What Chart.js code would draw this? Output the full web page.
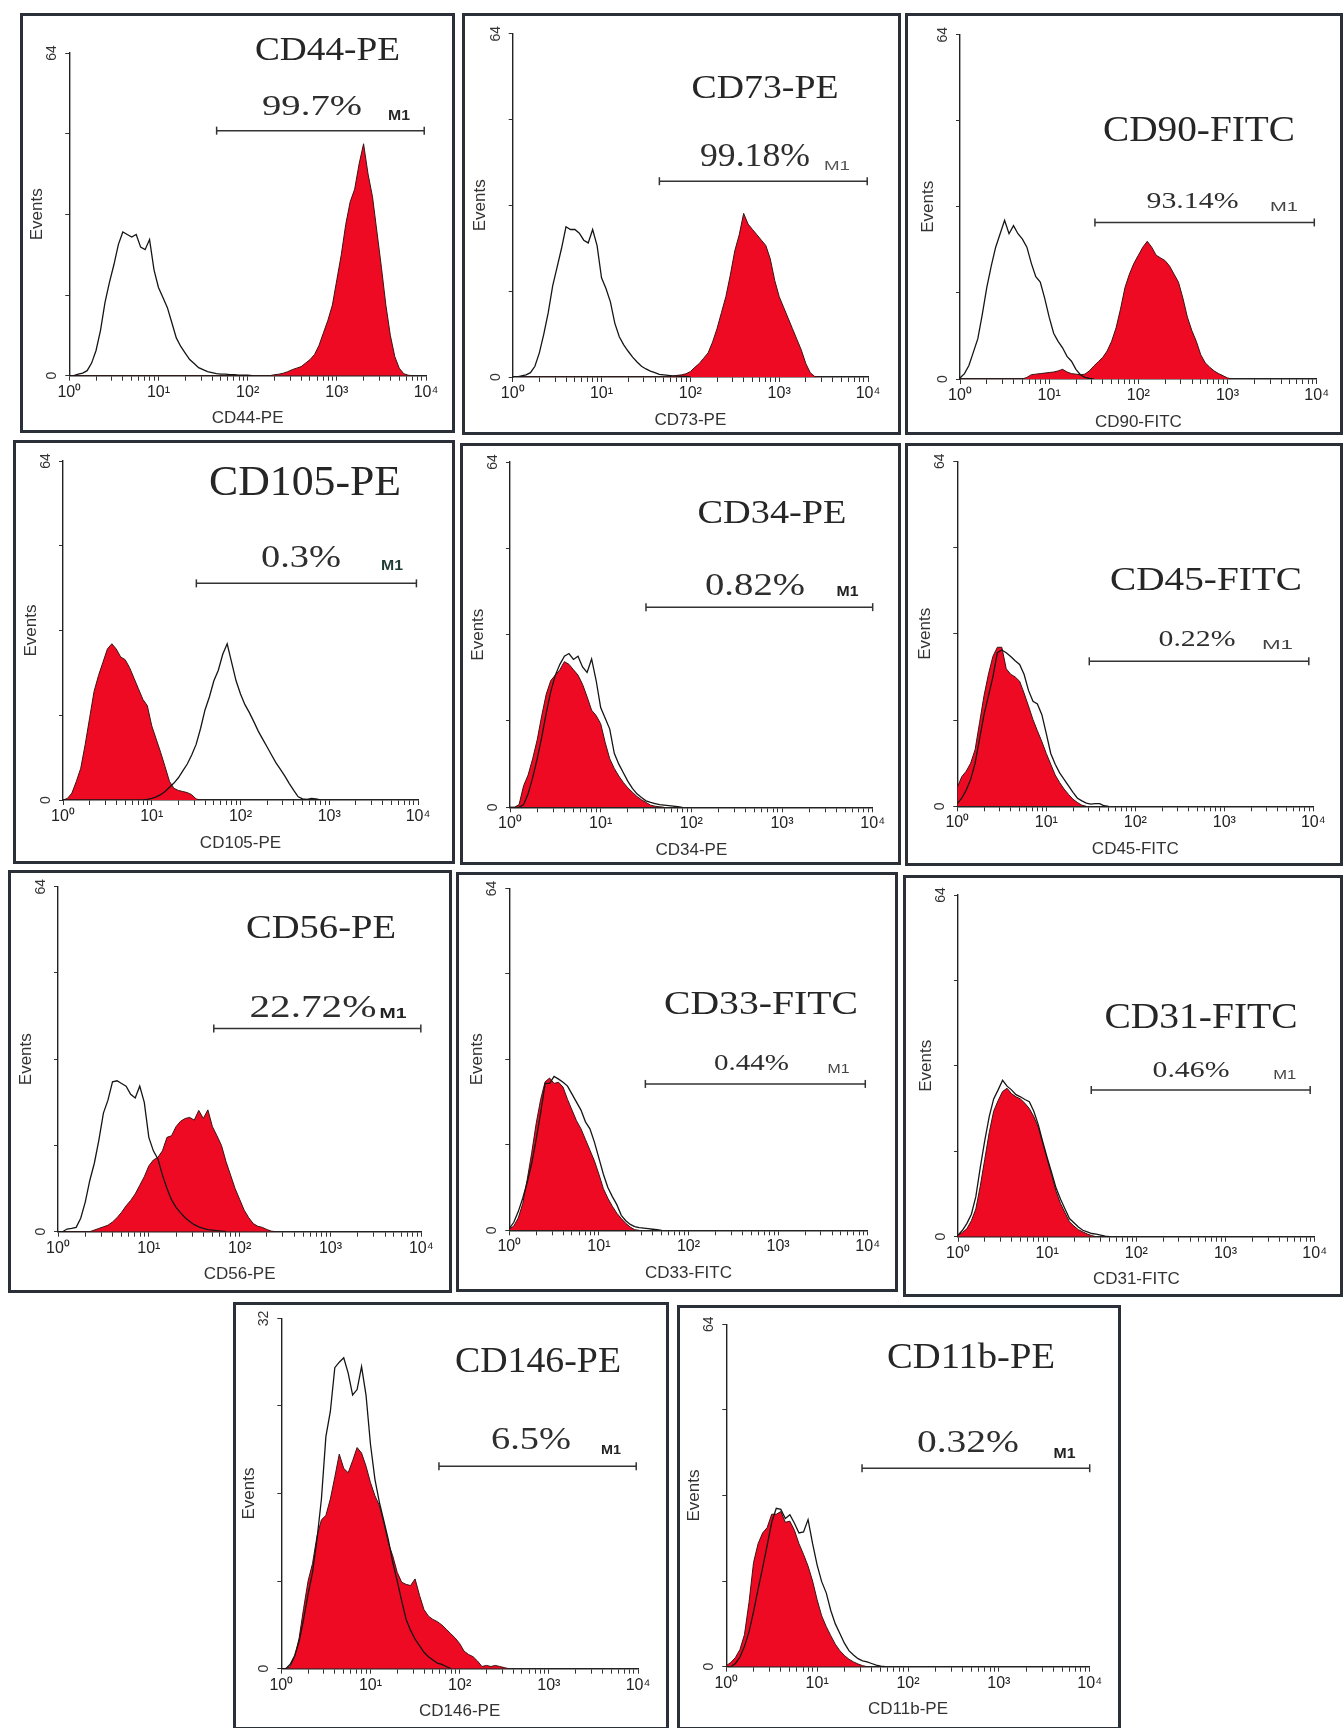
<!DOCTYPE html>
<html>
<head>
<meta charset="utf-8">
<script src="https://cdn.jsdelivr.net/npm/chart.js@4.4.1/dist/chart.umd.min.js"></script>
<style>
  html, body { margin: 0; padding: 0; background: #fff; }
  body { position: relative; width: 1343px; height: 1728px; overflow: hidden; }
  .panel { position: absolute; box-sizing: border-box; border: 3px solid #2b3038; background: #fff; }
  .panel canvas { position: absolute; left: 0; top: 0; }
</style>
</head>
<body>
<script>
// channel centres, in decades (10^d), shared by every histogram
const channelDecades = [
  0, 0.05, 0.1, 0.15, 0.2, 0.25, 0.3, 0.35, 0.4, 0.45,
  0.5, 0.55, 0.6, 0.65, 0.7, 0.75, 0.8, 0.85, 0.9, 0.95,
  1, 1.05, 1.1, 1.15, 1.2, 1.25, 1.3, 1.35, 1.4, 1.45,
  1.5, 1.55, 1.6, 1.65, 1.7, 1.75, 1.8, 1.85, 1.9, 1.95,
  2, 2.05, 2.1, 2.15, 2.2, 2.25, 2.3, 2.35, 2.4, 2.45,
  2.5, 2.55, 2.6, 2.65, 2.7, 2.75, 2.8, 2.85, 2.9, 2.95,
  3, 3.05, 3.1, 3.15, 3.2, 3.25, 3.3, 3.35, 3.4, 3.45,
  3.5, 3.55, 3.6, 3.65, 3.7, 3.75, 3.8, 3.85, 3.9, 3.95, 4
];
const xTickValues = [1, 2, 3, 4, 5, 6, 7, 8, 9, 10, 20, 30, 40, 50, 60, 70, 80, 90,
  100, 200, 300, 400, 500, 600, 700, 800, 900, 1000, 2000, 3000, 4000, 5000, 6000, 7000, 8000, 9000, 10000];
const decadeLabels = { 1: '10\u2070', 10: '10\u00b9', 100: '10\u00b2', 1000: '10\u00b3', 10000: '10\u2074' };

// events per channel, starting at channel 0 (10^0)
const cd44Ctrl = [0,0,0.3,0.5,1,2.5,5,9,14.5,18.5,22,26,28.5,28,27.5,28,25.5,25,27,21,17.5,15.5,13.5,10.5,7.5,5.8,4.5,3.2,2.4,1.6,1.2,0.8,0.6,0.4,0.3,0.3,0.2,0.2,0.1,0.1,0.1];
const cd44Pos = [0,0,0,0,0,0,0,0,0,0, 0,0,0,0,0,0,0,0,0,0, 0,0,0,0,0,0,0,0,0,0, 0,0,0,0,0,0,0,0,0,0, 0,0,0,0,0,0,
  0.2,0.3,0.5,0.8,1.2,1.5,1.8,2.5,3.2,4.2,6,8.5,11,14,19,24,30,34.5,37,42,46,40,35.5,28.5,21.5,14,8,3.8,1.5,0.4,0.1];
const cd73Ctrl = [0,0,0.2,0.4,0.8,2,4.5,8,12,17,20.5,24,28,27.5,27.5,26.8,25.5,25,27.5,24.5,18.5,16.5,14,10,7.5,6,4.8,3.7,2.8,2,1.5,1.1,0.8,0.5,0.4,0.3,0.2,0.15,0.1,0.1];
const cd73Pos = [0,0,0,0,0,0,0,0,0,0, 0,0,0,0,0,0,0,0,0,0, 0,0,0,0,0,0,0,0,0,0, 0,0,0,0,0,0,
  0.2,0.3,0.4,0.6,1,1.8,2.5,3.5,4.5,6.5,9,12,15,19,23.5,26.5,30.5,28.5,27.5,26.5,25.5,24.5,22,18,15,13,11,9,7,5,2.5,0.8,0.1];
const cd90Ctrl = [0.2,1,2.5,5,7.5,12,17,21,24.5,27,29.5,27,28.5,27,26,24.5,21.5,19,18,15,11.5,8.5,7,5.8,4.2,3.3,1.8,0.8,0.3,0.1];
const cd90Pos = [0,0,0,0,0,0,0,0,0,0, 0,0,0,0,0,
  0.3,0.8,0.9,1,1.1,1.2,1.3,1.5,1.8,1.3,1,0.9,0.8,0.9,1.5,2.4,3.2,4,5.2,7,9.5,13,17,19.5,21.5,23,24.5,25.6,24.5,23,22.5,22,21,19.5,18,15,11.5,9,7,4.5,3,2.2,1.5,1,0.6,0.2];
const cd105Ctrl = [0,0,0,0,0,0,0,0,0,0, 0,0,0,0,0,0,0,0,0,
  0.1,0.3,0.6,1,1.6,2.4,3.2,4.2,5.5,6.8,8.5,10.5,13.5,17,19.5,22.5,24.5,27.5,29.5,26,22.5,20,18,16.5,14.8,13,11.5,10,8.5,7,5.8,4.5,3.1,1.8,0.6,0.2,0.1,0.3,0.2];
const cd105Pos = [0,0.3,1.3,3.5,6,10.5,15.5,20.5,23.5,26,28.5,29.5,28.5,27,26.5,25,23,21,19,17.8,14,11.5,9,6.3,3.5,2.2,1.8,1.6,1.4,1,0.2];
const cd34Ctrl = [0,0,0,0.5,2.5,5.5,9,13,17.5,21.5,24.5,26.5,28,28.5,27.4,28,26,25,27.5,23.5,18.5,16.5,14.5,10,8,6.4,4.8,3.5,2.5,1.8,1.2,0.9,0.7,0.5,0.4,0.3,0.2,0.1];
const cd34Pos = [0,0,0.5,4,6,9,12.5,17,21,23.5,24.5,25.5,27,26.5,25.5,24.5,22.8,20.5,18,17,15.5,12,9,7.2,5.8,4.6,3.6,2.8,2,1.4,0.9,0.4,0.2,0.1];
const cd45Ctrl = [0.5,1.5,3,5,8,12.5,17,20.5,24,28.5,29,28.5,27.8,27,26.3,24.5,21.5,19.5,19,17,13.5,9.8,7.8,6.2,5,3.8,2.6,1.5,1,0.6,0.4,0.5,0.5,0.1];
const cd45Pos = [3.5,5.5,6.5,8,10.5,15.5,20.5,24.5,27.8,29.5,29.5,25.5,24.5,24,23.2,21,18.6,16.1,14,12,9.8,7.8,5.8,4.4,3.2,2.2,1.3,0.7,0.2];
const cd56Ctrl = [0,0,0.5,0.6,0.8,2.5,5.5,9.5,12.7,17,22,24.4,27.8,28,27.5,27,25.5,24.8,27,24,17.5,15,13.5,10.5,8,5.9,4.5,3.5,2.6,1.9,1.3,0.9,0.6,0.4,0.3,0.2,0.1];
const cd56Pos = [0,0,0,0,0,0,0,0,
  0.3,0.6,0.9,1.2,1.8,2.6,3.6,4.8,5.8,7,8.6,10.2,12.2,13.3,13.8,15,17.5,17.8,19.5,20.5,21,21.2,20.7,22.5,21,22.6,19.5,17.8,16,13,10.5,8,6,4,2.6,1.5,1,0.8,0.4,0.1];
const cd33Ctrl = [0.3,1.5,3.5,6,9,12.5,17,22,27.5,27.5,28.8,28.3,27.7,27,25.5,24,22.5,20.3,19,16.5,13.5,10.5,8,6.3,4.8,2.8,1.8,1.1,0.7,0.5,0.4,0.3,0.2,0.1];
const cd33Pos = [0.2,0.8,2.3,5,9.5,14.5,20,24.5,27.8,28.5,27.5,27.7,26.8,24.5,22.5,20.5,19,17,15,13,10.5,7.8,6,4.5,3.2,2.2,1.3,0.6,0.1];
const cd31Ctrl = [0.3,1.2,2.5,4.2,7.5,13,18,22.5,25.8,27.5,29.3,28.2,27.5,26.6,26.2,25.7,25.3,23.5,21,17.8,14.8,12,9.1,7,5.2,3.4,2.6,1.8,1.2,0.9,0.6,0.5,0.3,0.1];
const cd31Pos = [0.3,0.8,1.5,3,5.2,9.5,14.5,19.5,23.5,25.5,27.2,27.8,26.8,26.2,25.8,25,24,22.5,20.5,17.5,14.5,11.5,8.5,6.2,4.5,2.8,2,1.3,0.9,0.5,0.2];
const cd146Ctrl = [0,0,0.4,1.2,2.5,4.5,6.8,8.8,11.8,15.5,21.2,23.5,27.5,28,28.4,27,25,25.5,27.6,25,20.5,17.3,15.2,13.5,11.8,9.7,8,6.2,4.5,3.5,2.7,2.1,1.5,1.1,0.8,0.5,0.4,0.2];
const cd146Pos = [0,0,0.2,1.1,2.8,5.5,8,9.6,12.1,13.6,14,15.5,17.5,19.6,18.3,17.9,19,20.2,19.7,18.5,17,15.8,14.9,13.3,11.5,10.3,8.8,7.9,7.7,7.6,8.2,6.7,5.4,4.8,4.5,4.3,4,3.6,3.2,2.8,2.3,1.6,1.3,1.1,0.7,0.2,0.3,0.2,0.3,0.2,0.1];
const cd11bCtrl = [0,0,0.6,1.8,3.8,6.5,10.3,14.5,18.5,22.7,27,29.6,29.4,27.7,28.4,26.8,25,25.2,27.5,23,19,15.9,13.8,10.5,8,6.2,4.4,3,2.2,1.5,1.1,0.9,0.6,0.3,0.1];
const cd11bPos = [0.2,0.8,1.7,3.2,6,12,19.5,23,25,26,28.5,28.5,29,27,27.2,25.5,23,21,18.8,16,12.5,9.5,7.5,5.8,4.2,3,2.1,1.4,0.9,0.5,0.2];

const markers = ['CD44-PE', 'CD73-PE', 'CD90-FITC', 'CD105-PE', 'CD34-PE', 'CD45-FITC',
  'CD56-PE', 'CD33-FITC', 'CD31-FITC', 'CD146-PE', 'CD11b-PE'];
const percents = ['99.7%', '99.18%', '93.14%', '0.3%', '0.82%', '0.22%', '22.72%', '0.44%', '0.46%', '6.5%', '0.32%'];
const isotype = [cd44Ctrl, cd73Ctrl, cd90Ctrl, cd105Ctrl, cd34Ctrl, cd45Ctrl, cd56Ctrl, cd33Ctrl, cd31Ctrl, cd146Ctrl, cd11bCtrl];
const stained = [cd44Pos, cd73Pos, cd90Pos, cd105Pos, cd34Pos, cd45Pos, cd56Pos, cd33Pos, cd31Pos, cd146Pos, cd11bPos];
const yMax = [64, 64, 64, 64, 64, 64, 64, 64, 64, 32, 64];
// M1 marker: start, end (fluorescence), drawn at this event level
const gateFrom = [44.9, 44.8, 32.6, 31.8, 31.6, 30.4, 51.9, 33, 31.2, 58.6, 31.2];
const gateTo = [9550, 9800, 9400, 9600, 10000, 8900, 9880, 9400, 8900, 9550, 10000];
const gateLevel = [48.6, 36.5, 29.1, 40.9, 37.1, 26.9, 37.7, 27.4, 27.5, 18.5, 37.1];

// page layout: outer box, plot rect [axisX, top, right, baseline], text specs [cx, baseline, size, width]
const panels = [
  { box: [20, 13, 455, 433], plot: [69.3, 53, 426, 375.7], title: [327.5, 60, 33, 145], pct: [312, 115, 30, 100], m1: [399, 120, 15, 22, 'bold', '#2a2a2a'] },
  { box: [462, 13, 901, 435], plot: [512.7, 33.7, 868, 377], title: [765, 98, 34, 147], pct: [755, 166, 33, 110], m1: [837, 170, 12, 26, 'normal', '#555'] },
  { box: [905, 13, 1343, 435], plot: [960, 34.7, 1316.7, 379], title: [1199, 141, 35, 192], pct: [1192.5, 208, 23, 92], m1: [1284, 211, 12, 28, 'normal', '#444'] },
  { box: [13, 440, 455, 864], plot: [63, 461, 418, 800], title: [305, 495, 42, 192], pct: [301, 567, 31, 80], m1: [392, 570, 15, 22, 'bold', '#1f3d35'] },
  { box: [460, 443, 901, 865], plot: [510, 462, 872.7, 807.3], title: [772, 523, 33, 149], pct: [755, 595, 32, 100], m1: [847.5, 596, 14, 22, 'bold', '#222'] },
  { box: [905, 443, 1343, 866], plot: [957.3, 461.3, 1313.3, 806.3], title: [1206, 590, 33, 192], pct: [1197, 646, 23, 77], m1: [1277.5, 649, 12, 31, 'normal', '#444'] },
  { box: [8, 870, 452, 1293], plot: [58, 886.7, 421.3, 1231.7], title: [321, 938, 33, 150], pct: [313, 1017, 32, 127], m1: [393, 1018, 14, 27, 'bold', '#222'] },
  { box: [456, 872, 898, 1292], plot: [509.3, 887.7, 867.7, 1230.3], title: [761, 1014, 33, 194], pct: [751.5, 1070, 23, 75], m1: [838.5, 1073, 12, 22, 'normal', '#444'] },
  { box: [903, 875, 1343, 1297], plot: [958, 895, 1314.7, 1236.7], title: [1201, 1028, 35, 193], pct: [1191, 1077, 23, 77], m1: [1284.7, 1079, 12, 23, 'normal', '#444'] },
  { box: [233, 1302, 669, 1730], plot: [281.3, 1317, 638, 1668.7], title: [538, 1372, 35, 166], pct: [531, 1449, 32, 80], m1: [611, 1454, 13, 20, 'bold', '#222'] },
  { box: [677, 1305, 1121, 1730], plot: [726.3, 1324.3, 1089.7, 1666.7], title: [971, 1368, 35, 168], pct: [968, 1452, 32, 102], m1: [1064.5, 1458, 14, 22, 'bold', '#222'] }
];

const BORDER = 3;
const SANS = '"Liberation Sans", Arial, sans-serif';
const SERIF = '"Liberation Serif", "Times New Roman", serif';

function toPoints(counts) {
  const pts = counts.map((c, i) => ({ x: 10 ** channelDecades[i], y: c }));
  pts.push({ x: 10 ** channelDecades[counts.length], y: 0 });
  return pts;
}

// text squeezed/stretched to the width it has in the figure
function putText(ctx, text, spec, family, weight, color) {
  const [cx, base, size, width] = spec;
  ctx.save();
  ctx.font = weight + ' ' + size + 'px ' + family;
  ctx.fillStyle = color;
  ctx.textAlign = 'center';
  ctx.textBaseline = 'alphabetic';
  const w = ctx.measureText(text).width;
  ctx.translate(cx, base);
  ctx.scale(width / w, 1);
  ctx.fillText(text, 0, 0);
  ctx.restore();
}

panels.forEach((p, k) => {
  const [bl, bt, br, bb] = p.box;
  const div = document.createElement('div');
  div.className = 'panel';
  div.style.left = bl + 'px';
  div.style.top = bt + 'px';
  div.style.width = (br - bl) + 'px';
  div.style.height = (bb - bt) + 'px';
  const cw = br - bl - 2 * BORDER;
  const chh = bb - bt - 2 * BORDER;
  const canvas = document.createElement('canvas');
  canvas.width = cw;
  canvas.height = chh;
  canvas.style.width = cw + 'px';
  canvas.style.height = chh + 'px';
  div.appendChild(canvas);
  document.body.appendChild(div);

  const ox = bl + BORDER, oy = bt + BORDER;
  const [ax, at, ar, ab] = p.plot;
  const yW = ax - ox;
  const xH = oy + chh - ab;
  const xTitlePad = xH - 43 - 10.2;
  const yTitlePad = yW - 32 - 10.2;

  const labels = {
    id: 'panelLabels',
    afterDraw(chart) {
      const ctx = chart.ctx;
      const shift = s => [s[0] - ox, s[1] - oy, s[2], s[3]];
      putText(ctx, markers[k], shift(p.title), SERIF, 'normal', '#262626');
      putText(ctx, percents[k], shift(p.pct), SERIF, 'normal', '#2e2e2e');
      putText(ctx, 'M1', shift(p.m1), SANS, p.m1[4], p.m1[5]);
    }
  };

  new Chart(canvas, {
    type: 'line',
    data: {
      datasets: [
        { data: toPoints(isotype[k]), borderColor: '#151515', borderWidth: 1.3, pointRadius: 0, fill: false, order: 0 },
        { data: toPoints(stained[k]), borderColor: '#3b1414', borderWidth: 1, backgroundColor: '#ee0a22', pointRadius: 0, fill: 'origin', order: 1 },
        { data: [{ x: gateFrom[k], y: gateLevel[k] }, { x: gateTo[k], y: gateLevel[k] }],
          borderColor: '#333', borderWidth: 1.5, pointStyle: 'line', pointRotation: 90, pointRadius: 4,
          pointBorderWidth: 1.5, pointBorderColor: '#333', fill: false, clip: false, order: 2 }
      ]
    },
    options: {
      responsive: false,
      animation: false,
      events: [],
      layout: { padding: { left: 0, top: at - oy, right: ox + cw - ar, bottom: 0 } },
      elements: { line: { tension: 0 } },
      plugins: { legend: { display: false }, tooltip: { enabled: false } },
      scales: {
        x: {
          type: 'logarithmic', min: 1, max: 10000, position: 'bottom',
          afterBuildTicks: s => { s.ticks = xTickValues.map(v => ({ value: v })); },
          afterFit: s => { s.height = xH; },
          ticks: { autoSkip: false, minRotation: 0, maxRotation: 0, padding: 2, color: '#222',
                   font: { family: SANS, size: 16 }, callback: v => decadeLabels[v] || '' },
          grid: { drawOnChartArea: false, drawTicks: true, tickLength: 5, tickColor: '#333' },
          border: { display: true, color: '#222', width: 1.4 },
          title: { display: true, text: markers[k], color: '#333', font: { family: SANS, size: 17 },
                   padding: { top: 0, bottom: xTitlePad } }
        },
        y: {
          type: 'linear', min: 0, max: yMax[k], position: 'left',
          afterFit: s => { s.width = yW; },
          ticks: { stepSize: yMax[k] / 4, autoSkip: false, minRotation: 90, maxRotation: 90, crossAlign: 'center',
                   padding: 5, color: '#333', font: { family: SANS, size: 14 },
                   callback: v => (v === 0 || v === yMax[k]) ? String(v) : '' },
          grid: { drawOnChartArea: false, drawTicks: true, tickLength: 4, tickColor: '#333' },
          border: { display: true, color: '#222', width: 1.4 },
          title: { display: true, text: 'Events', color: '#333', font: { family: SANS, size: 17 },
                   padding: { top: yTitlePad, bottom: 0 } }
        }
      }
    },
    plugins: [labels]
  });
});
</script>
</body>
</html>
